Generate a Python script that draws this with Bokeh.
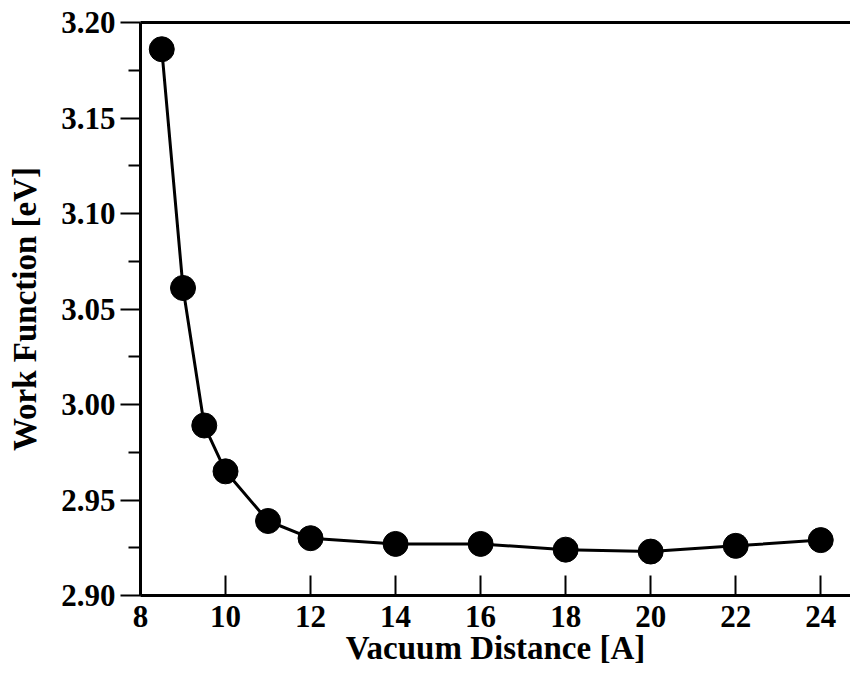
from bokeh.plotting import figure
from bokeh.models import LinearAxis, FixedTicker, Range1d, NumeralTickFormatter
from bokeh.embed import file_html
from bokeh.resources import INLINE

vacuum_distance = [8.5, 9, 9.5, 10, 11, 12, 14, 16, 18, 20, 22, 24]
work_function = [3.186, 3.061, 2.989, 2.965, 2.939, 2.930, 2.927, 2.927, 2.924, 2.923, 2.926, 2.929]
x_ticks = [8, 10, 12, 14, 16, 18, 20, 22, 24]
y_ticks = [2.90, 2.95, 3.00, 3.05, 3.10, 3.15, 3.20]
y_minor = [2.925, 2.975, 3.025, 3.075, 3.125, 3.175]

FONT = "Liberation Serif"

p = figure(width=850, height=668, output_backend="svg", toolbar_location=None,
           x_range=Range1d(8, 24.7), y_range=Range1d(2.90, 3.20),
           min_border_left=140, min_border_right=0, min_border_top=22, min_border_bottom=73)
p.outline_line_color = None
p.grid.visible = False
p.background_fill_color = "white"
p.border_fill_color = "white"

p.line(vacuum_distance, work_function, line_color="black", line_width=3)
p.scatter(vacuum_distance, work_function, size=25, fill_color="black", line_color="black")

xa = p.xaxis[0]
xa.ticker = FixedTicker(ticks=x_ticks)
xa.axis_label = "Vacuum Distance [A]"
ya = p.yaxis[0]
ya.ticker = FixedTicker(ticks=y_ticks, minor_ticks=y_minor)
ya.formatter = NumeralTickFormatter(format="0.00")
ya.axis_label = "Work Function [eV]"

for ax in (xa, ya):
    ax.axis_line_width = 3
    ax.axis_line_color = "black"
    ax.major_tick_line_width = 2
    ax.minor_tick_line_width = 2
    ax.major_label_text_font = FONT
    ax.major_label_text_font_style = "bold"
    ax.major_label_text_font_size = "31px"
    ax.major_label_text_color = "black"
    ax.axis_label_text_font = FONT
    ax.axis_label_text_font_style = "bold"
    ax.axis_label_text_font_size = "33px"
    ax.axis_label_text_color = "black"

xa.major_tick_in = 20
xa.major_tick_out = 0
xa.minor_tick_line_color = None
xa.major_label_standoff = 10
xa.axis_label_standoff = 0

ya.major_tick_in = 0
ya.major_tick_out = 20
ya.minor_tick_in = 0
ya.minor_tick_out = 12
ya.major_label_standoff = 5
ya.axis_label_standoff = 15

top = LinearAxis(ticker=FixedTicker(ticks=[]), axis_line_width=3, axis_line_color="black",
                 major_label_text_font_size="0px", major_tick_line_color=None,
                 minor_tick_line_color=None)
p.add_layout(top, "above")

open("out.html", "w").write(file_html(p, INLINE))
